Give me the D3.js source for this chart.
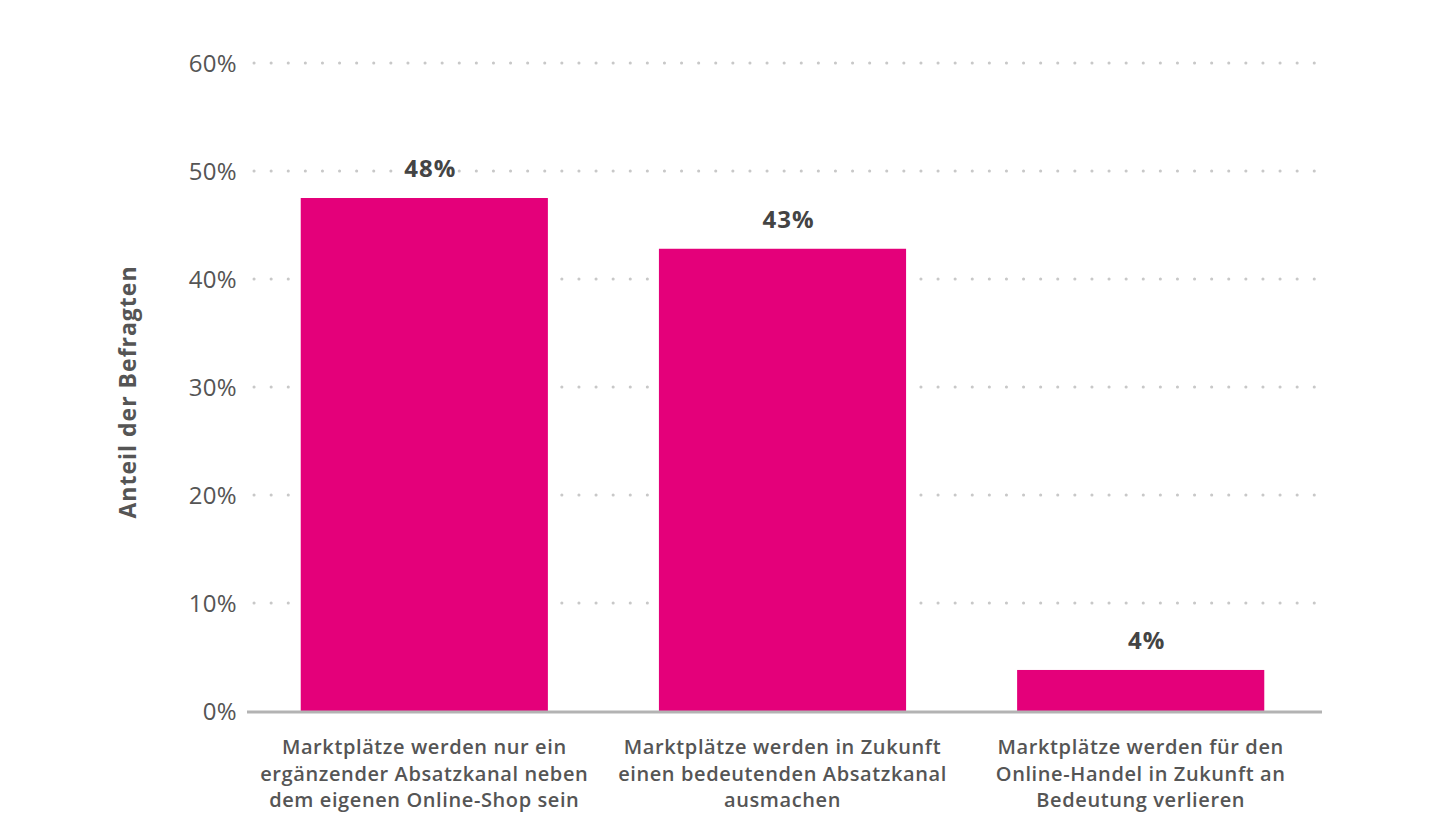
<!DOCTYPE html>
<html>
<head>
<meta charset="utf-8">
<script src="https://cdn.jsdelivr.net/npm/d3@7"></script>
<style>
  body { margin: 0; background: #fff; }
  svg { display: block; font-family: 'Open Sans', sans-serif; }
</style>
</head>
<body>
<div id="chart"></div>
<script>
// data
const categories = [
  ['Marktplätze werden nur ein', 'ergänzender Absatzkanal neben', 'dem eigenen Online-Shop sein'],
  ['Marktplätze werden in Zukunft', 'einen bedeutenden Absatzkanal', 'ausmachen'],
  ['Marktplätze werden für den', 'Online-Handel in Zukunft an', 'Bedeutung verlieren']
]
const values = [47.5, 42.8, 3.8]
const valueLabels = ['48%', '43%', '4%']
const yTicks = [0, 10, 20, 30, 40, 50, 60]

const width = 1440
const height = 840
const margin = { top: 63, right: 122, bottom: 129, left: 247 }

const svg = d3.select('#chart').append('svg')
  .attr('width', width)
  .attr('height', height)

const x = d3.scaleBand()
  .domain(d3.range(values.length))
  .range([margin.left, width - margin.right])
  .paddingInner(0.31)
  .paddingOuter(0.15)

const y = d3.scaleLinear()
  .domain([0, 60])
  .range([height - margin.bottom, margin.top])

// dotted grid
svg.append('g')
  .selectAll('line')
  .data(yTicks.filter(d => d > 0))
  .join('line')
  .attr('x1', margin.left + 7).attr('x2', 1320)
  .attr('y1', d => y(d)).attr('y2', d => y(d))
  .attr('stroke', '#c8c8c8')
  .attr('stroke-width', 3)
  .attr('stroke-linecap', 'round')
  .attr('stroke-dasharray', '0.1,17')

// y tick labels
svg.append('g')
  .selectAll('text')
  .data(yTicks)
  .join('text')
  .attr('x', margin.left - 10)
  .attr('y', d => y(d))
  .attr('dy', '0.36em')
  .attr('text-anchor', 'end')
  .attr('font-size', '24px')
  .attr('font-weight', 400)
  .attr('letter-spacing', '0.3px')
  .attr('fill', '#555')
  .text(d => d + '%')

// y axis title
svg.append('text')
  .attr('transform', `translate(136, ${(y(0) + y(60)) / 2 + 5}) rotate(-90)`)
  .attr('text-anchor', 'middle')
  .attr('font-size', '23px')
  .attr('font-weight', 'bold')
  .attr('letter-spacing', '1px')
  .attr('fill', '#555')
  .text('Anteil der Befragten')

// bars
svg.append('g')
  .selectAll('rect')
  .data(values)
  .join('rect')
  .attr('x', (d, i) => x(i))
  .attr('y', d => y(d))
  .attr('width', x.bandwidth())
  .attr('height', d => y(0) - y(d))
  .attr('fill', '#e4007a')

// baseline
svg.append('line')
  .attr('x1', margin.left).attr('x2', 1322)
  .attr('y1', y(0) + 1).attr('y2', y(0) + 1)
  .attr('stroke', '#b3b3b3')
  .attr('stroke-width', 3)

// value labels
svg.append('g')
  .selectAll('text')
  .data(values)
  .join('text')
  .attr('x', (d, i) => x(i) + x.bandwidth() / 2 + 6)
  .attr('y', d => y(d) - 21)
  .attr('text-anchor', 'middle')
  .attr('font-size', '24px')
  .attr('font-weight', 'bold')
  .attr('letter-spacing', '1px')
  .attr('fill', '#444')
  .text((d, i) => valueLabels[i])

// category labels
const catG = svg.append('g')
categories.forEach((lines, i) => {
  const t = catG.append('text')
    .attr('text-anchor', 'middle')
    .attr('font-size', '20px')
    .attr('font-weight', 600)
    .attr('letter-spacing', '0.6px')
    .attr('fill', '#555')
  lines.forEach((line, j) => {
    t.append('tspan')
      .attr('x', x(i) + x.bandwidth() / 2)
      .attr('y', y(0) + 43 + j * 26.5)
      .text(line)
  })
})
</script>
</body>
</html>
